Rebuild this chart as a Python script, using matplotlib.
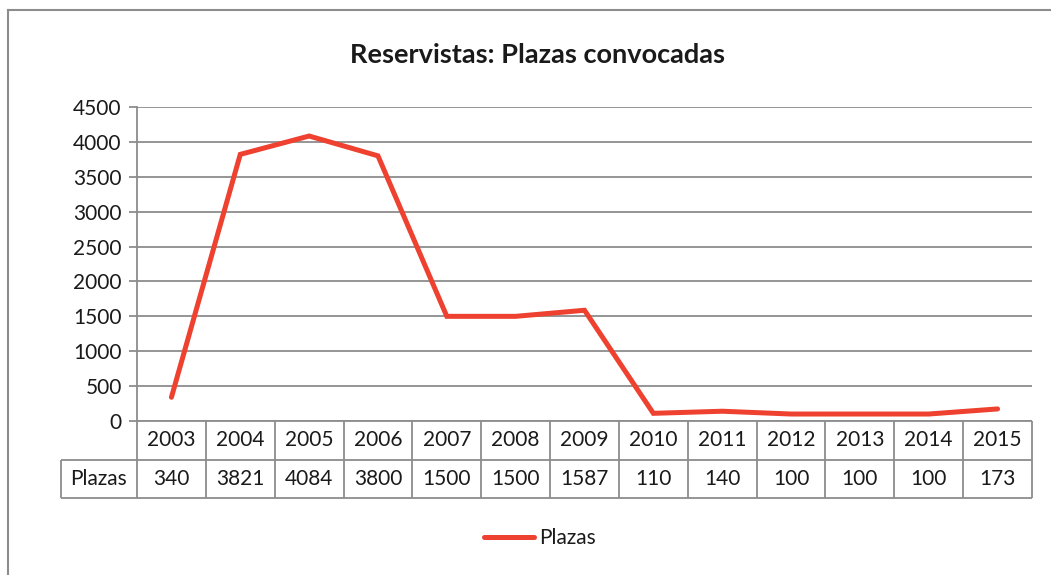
import matplotlib.pyplot as plt
from matplotlib.lines import Line2D

plt.rcParams['font.family'] = ['Lato', 'DejaVu Sans']

years = ['2003', '2004', '2005', '2006', '2007', '2008', '2009',
         '2010', '2011', '2012', '2013', '2014', '2015']
plazas = [340, 3821, 4084, 3800, 1500, 1500, 1587, 110, 140, 100, 100, 100, 173]
series_name = 'Plazas'
yticks = [0, 500, 1000, 1500, 2000, 2500, 3000, 3500, 4000, 4500]

line_color = '#EE4130'
grid_color = '#8C8C8C'
text_color = '#1A1A1A'
fs = 15

W, H = 1051, 575
fig = plt.figure(figsize=(W / 100, H / 100), dpi=100)
ax = fig.add_axes([137 / W, 154 / H, 895 / W, 314 / H])

n = len(years)
x = list(range(n))
ax.plot(x, plazas, color=line_color, linewidth=3.6, solid_capstyle='round',
        solid_joinstyle='miter', label=series_name, zorder=3)

ax.set_xlim(-0.5, n - 0.5)
ax.set_ylim(0, 4500)
ax.set_yticks(yticks)
ax.set_xticks([])
ax.yaxis.grid(True, color=grid_color, linewidth=1.3)
ax.set_axisbelow(True)
for s in ['top', 'right', 'bottom']:
    ax.spines[s].set_visible(False)
ax.spines['left'].set_color(grid_color)
ax.spines['left'].set_linewidth(1.3)
ax.tick_params(axis='y', length=6, width=1.3, color=grid_color,
               labelsize=fs, labelcolor=text_color, pad=5)

# data table under the plot: header row of years, one row of values
lw = 76 / 68.85  # width of the label column, in column units
tax = fig.add_axes([61 / W, 77 / H, 971 / W, 77 / H])
tax.set_xlim(-lw, n)
tax.set_ylim(0, 2)
tax.axis('off')
lkw = dict(color=grid_color, linewidth=1.3, clip_on=False)
tax.hlines(2, 0, n, **lkw)
tax.hlines([0, 1], -lw, n, **lkw)
tax.vlines(range(n + 1), 0, 2, **lkw)
tax.vlines(-lw, 0, 1, **lkw)
for i in range(n):
    tax.text(i + 0.5, 1.5, years[i], ha='center', va='center', fontsize=fs, color=text_color)
    tax.text(i + 0.5, 0.5, str(plazas[i]), ha='center', va='center', fontsize=fs, color=text_color)
tax.text(-lw / 2, 0.5, series_name, ha='center', va='center', fontsize=fs, color=text_color)

fig.text(537 / W, 1 - 55 / H, 'Reservistas: Plazas convocadas',
         ha='center', va='center', fontsize=19.5, fontweight='bold', color=text_color)

fig.legend(loc='center', bbox_to_anchor=(540 / W, 1 - 538 / H), frameon=False,
           fontsize=fs, handlelength=2.4, handletextpad=0.25, labelcolor=text_color)

# outer frame (only top and left edges visible in the crop)
fig.add_artist(Line2D([8 / W, 8 / W], [0, 1 - 10 / H], color=grid_color,
                      linewidth=1.5, transform=fig.transFigure))
fig.add_artist(Line2D([8 / W, 1], [1 - 10 / H, 1 - 10 / H], color=grid_color,
                      linewidth=1.5, transform=fig.transFigure))

fig.savefig('out.png', dpi=100)
